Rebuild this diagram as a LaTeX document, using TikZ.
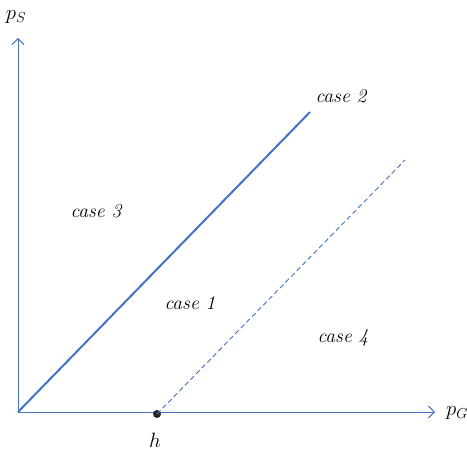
\documentclass[tikz,border=0pt]{standalone}
\usetikzlibrary{arrows.meta}
\definecolor{lblue}{RGB}{68,114,196}
\begin{document}
\begin{tikzpicture}[x=1pt,y=-1pt,
  axis/.style={draw=lblue,line width=0.9pt,-{Straight Barb[length=6pt,width=12pt]}},
  lab/.style={font=\fontsize{19.5}{22}\selectfont\itshape,inner sep=0pt},
  mlab/.style={font=\fontsize{22}{24}\selectfont,inner sep=0pt}]
\useasboundingbox (0,0) rectangle (467,452);
\coordinate (O) at (18,412);
\coordinate (Y) at (18,38);
\coordinate (X) at (435,412);
\coordinate (S) at (310,112);
\coordinate (D) at (405,160);
\draw[axis] (O) -- (Y);
\draw[axis] (O) -- (X);
\draw[lblue,line width=2pt] (O) -- (S);
\node[circle,fill=black!85,inner sep=0pt,minimum size=8pt] (h) at (157,414) {};
\draw[lblue,line width=0.9pt,dash pattern=on 5pt off 3pt] (h.center) -- (D);
\node[mlab] (ps) at (16,17) {$p_S$};
\node[mlab,anchor=west] (pg) at (446,413) {$p_G$};
\node[mlab] (hl) at (155,440) {$h$};
\node[lab] (c2) at (341,96) {case 2};
\node[lab] (c3) at (96,211) {case 3};
\node[lab] (c1) at (190,303) {case 1};
\node[lab] (c4) at (343,338) {case 4};
\end{tikzpicture}
\end{document}
